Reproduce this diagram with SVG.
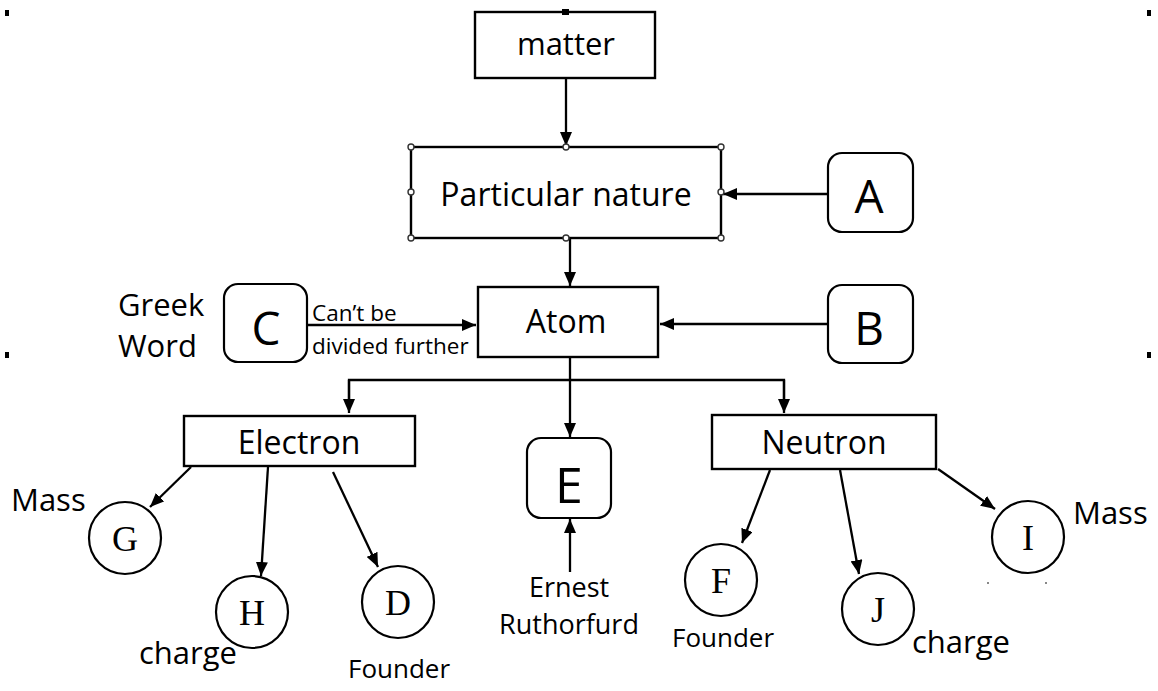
<svg xmlns="http://www.w3.org/2000/svg" width="1158" height="691" viewBox="0 0 1158 691">
<style>
.box{fill:#fff;stroke:#000;stroke-width:2.4}
.rbox{fill:#fff;stroke:#000;stroke-width:2.2}
.circ{fill:#fff;stroke:#000;stroke-width:2.2}
.t{font-family:"Open Sans","Liberation Sans",sans-serif;fill:#000}
.c{text-anchor:middle}
.lt{font-family:"Liberation Serif","Times New Roman",serif;font-size:36px;text-anchor:middle;fill:#000}
.ln{stroke:#000;stroke-width:2.3;fill:none}
.h{fill:#fff;stroke:#333;stroke-width:1.4}
.dot{fill:#000}
</style>
<defs>
<marker id="ah" viewBox="0 0 14 12" refX="14" refY="6" markerWidth="14" markerHeight="12" markerUnits="userSpaceOnUse" orient="auto">
<path d="M0,0 L14,6 L0,12 Z" fill="#000"/>
</marker>
</defs>

<g id="corner-dots">
<rect class="dot" x="5" y="10" width="4" height="6"/>
<rect class="dot" x="1147" y="10" width="4" height="6"/>
<rect class="dot" x="5" y="352" width="4" height="6"/>
<rect class="dot" x="1147" y="352" width="4" height="6"/>
<rect x="987" y="582" width="2" height="2" fill="#888"/>
<rect x="1045" y="582" width="2" height="2" fill="#888"/>
</g>

<g id="connectors">
<line class="ln" x1="566" y1="78" x2="566" y2="146" marker-end="url(#ah)"/>
<line class="ln" x1="828" y1="194" x2="723" y2="194" marker-end="url(#ah)"/>
<line class="ln" x1="570" y1="238" x2="570" y2="286" marker-end="url(#ah)"/>
<line class="ln" x1="828" y1="324" x2="660" y2="324" marker-end="url(#ah)"/>
<line class="ln" x1="307" y1="325" x2="476" y2="325" marker-end="url(#ah)"/>
<line class="ln" x1="570" y1="357" x2="570" y2="437" marker-end="url(#ah)"/>
<polyline class="ln" points="349,400 349,380 784,380 784,400"/>
<line class="ln" x1="349" y1="380" x2="349" y2="413" marker-end="url(#ah)"/>
<line class="ln" x1="784" y1="380" x2="784" y2="413" marker-end="url(#ah)"/>
<line class="ln" x1="570" y1="572" x2="570" y2="519" marker-end="url(#ah)"/>
<line class="ln" x1="191" y1="467" x2="150" y2="507" marker-end="url(#ah)"/>
<line class="ln" x1="268" y1="467" x2="261" y2="576" marker-end="url(#ah)"/>
<line class="ln" x1="333" y1="472" x2="378" y2="567" marker-end="url(#ah)"/>
<line class="ln" x1="770" y1="470" x2="742" y2="543" marker-end="url(#ah)"/>
<line class="ln" x1="840" y1="470" x2="859" y2="574" marker-end="url(#ah)"/>
<line class="ln" x1="938" y1="469" x2="995" y2="509" marker-end="url(#ah)"/>
</g>

<g id="matter">
<rect class="box" x="475" y="12" width="180" height="66"/>
<rect class="dot" x="562" y="9" width="7" height="6"/>
<text class="t c" x="566" y="55" font-size="31">matter</text>
</g>

<g id="particular-nature">
<rect class="box" x="411" y="147" width="310" height="91"/>
<circle class="h" cx="411" cy="147" r="3"/>
<circle class="h" cx="566" cy="147" r="3"/>
<circle class="h" cx="721" cy="147" r="3"/>
<circle class="h" cx="411" cy="192" r="3"/>
<circle class="h" cx="721" cy="192" r="3"/>
<circle class="h" cx="411" cy="238" r="3"/>
<circle class="h" cx="566" cy="238" r="3"/>
<circle class="h" cx="721" cy="238" r="3"/>
<text class="t c" x="566" y="206" font-size="32">Particular nature</text>
</g>

<g id="node-A">
<rect class="rbox" x="828" y="153" width="85" height="79" rx="14"/>
<text class="t c" x="869" y="213" font-size="46">A</text>
</g>

<g id="atom">
<rect class="box" x="478" y="287" width="180" height="70"/>
<text class="t c" x="566" y="333" font-size="32">Atom</text>
</g>

<g id="node-B">
<rect class="rbox" x="828" y="285" width="85" height="78" rx="14"/>
<text class="t c" x="869" y="345" font-size="46">B</text>
</g>

<g id="node-C">
<rect class="rbox" x="224" y="284" width="83" height="78" rx="14"/>
<text class="t c" x="266" y="345" font-size="46">C</text>
<text class="t" x="118" y="316" font-size="31">Greek</text>
<text class="t" x="118" y="357" font-size="31">Word</text>
<text class="t" x="312" y="321" font-size="22.5">Can’t be</text>
<text class="t" x="312" y="354" font-size="22.5">divided further</text>
</g>

<g id="electron">
<rect class="box" x="184" y="416" width="231" height="50"/>
<text class="t c" x="299" y="454" font-size="32">Electron</text>
</g>

<g id="neutron">
<rect class="box" x="712" y="415" width="224" height="54"/>
<text class="t c" x="824" y="454" font-size="32">Neutron</text>
</g>

<g id="node-E">
<rect class="rbox" x="527" y="438" width="84" height="80" rx="14"/>
<text class="t c" x="569" y="503" font-size="50">E</text>
<text class="t c" x="569" y="597" font-size="27">Ernest</text>
<text class="t c" x="569" y="634" font-size="27">Ruthorfurd</text>
</g>

<g id="node-G">
<circle class="circ" cx="125" cy="538" r="36"/>
<text class="lt" x="125" y="551">G</text>
<text class="t" x="11" y="511" font-size="31">Mass</text>
</g>

<g id="node-H">
<circle class="circ" cx="252" cy="612" r="36"/>
<text class="lt" x="252" y="625">H</text>
<text class="t" x="139" y="664" font-size="31">charge</text>
</g>

<g id="node-D">
<circle class="circ" cx="398" cy="602" r="36"/>
<text class="lt" x="398" y="615">D</text>
<text class="t" x="348" y="678" font-size="26">Founder</text>
</g>

<g id="node-F">
<circle class="circ" cx="721" cy="580" r="36"/>
<text class="lt" x="721" y="593">F</text>
<text class="t" x="672" y="647" font-size="26">Founder</text>
</g>

<g id="node-J">
<circle class="circ" cx="878" cy="609" r="36"/>
<text class="lt" x="878" y="622">J</text>
<text class="t" x="912" y="653" font-size="31">charge</text>
</g>

<g id="node-I">
<circle class="circ" cx="1028" cy="537" r="36"/>
<text class="lt" x="1028" y="550">I</text>
<text class="t" x="1073" y="524" font-size="31">Mass</text>
</g>
</svg>
